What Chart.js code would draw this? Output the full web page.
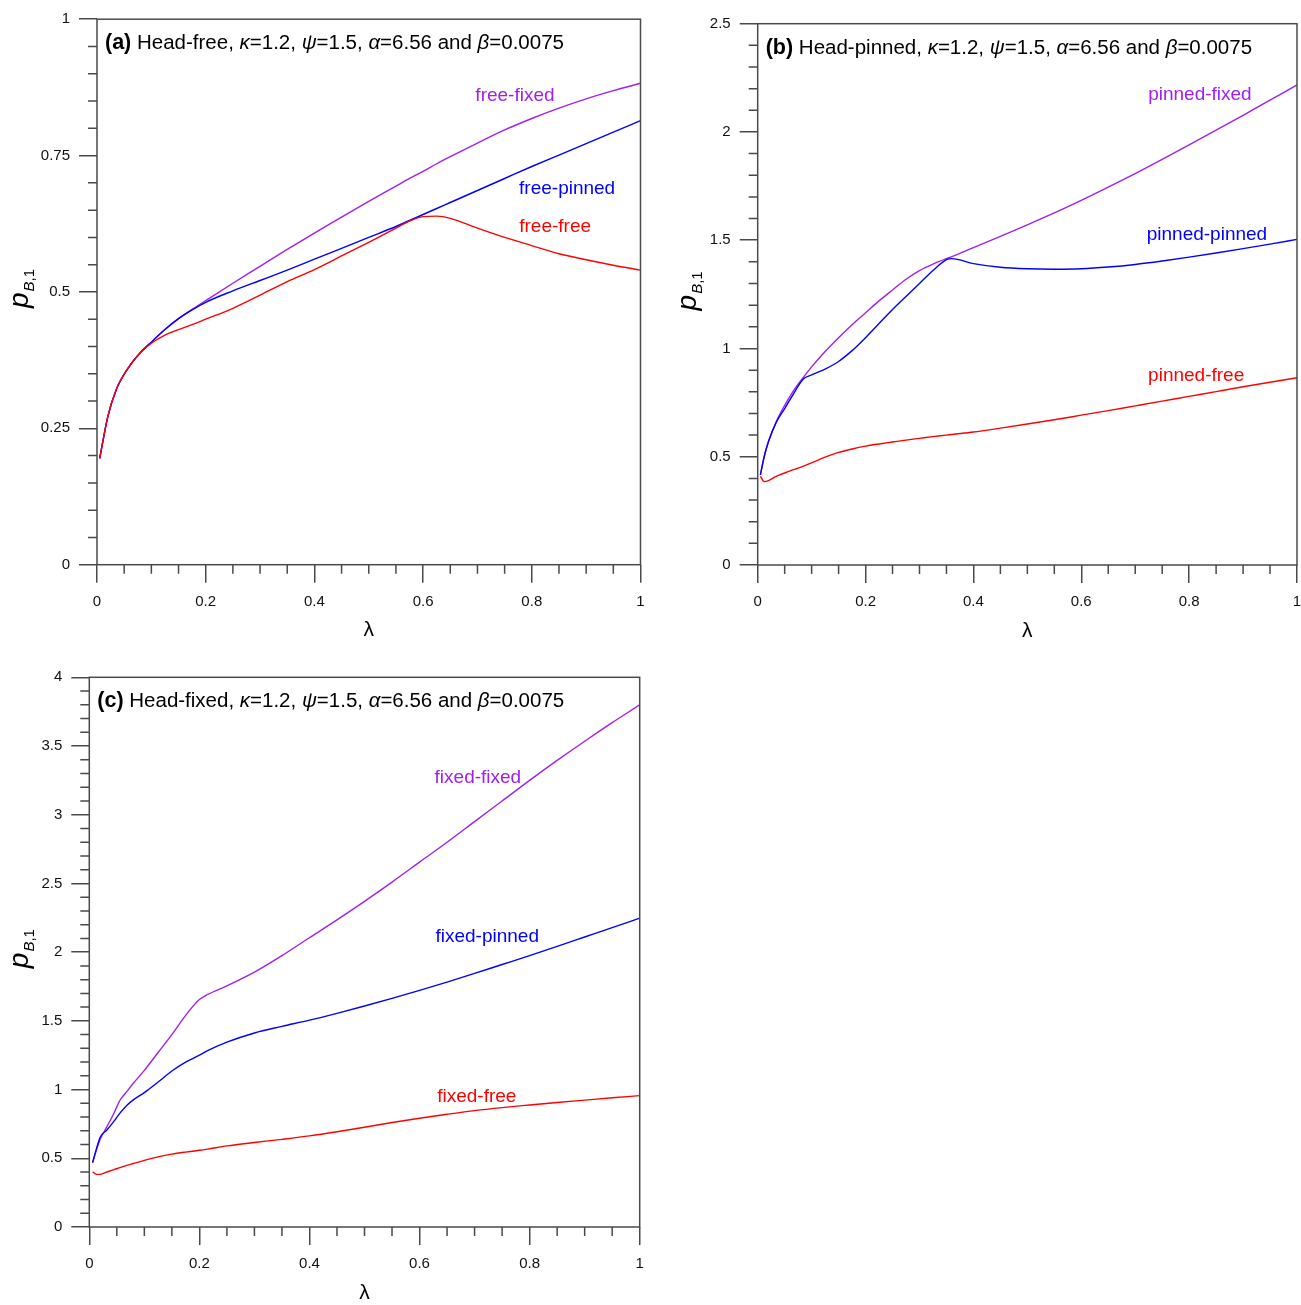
<!DOCTYPE html>
<html>
<head>
<meta charset="utf-8">
<script src="https://cdn.jsdelivr.net/npm/chart.js@4.4.1/dist/chart.umd.min.js"></script>
<style>
  body { margin: 0; background: #fff; }
  #wrap { position: relative; width: 1301px; height: 1305px; }
  .panel { position: absolute; }
</style>
</head>
<body>
<div id="wrap">
  <div class="panel" style="left:0;top:0;width:650px;height:650px"><canvas id="chartA"></canvas></div>
  <div class="panel" style="left:655px;top:0;width:646px;height:650px"><canvas id="chartB"></canvas></div>
  <div class="panel" style="left:0;top:655px;width:650px;height:650px"><canvas id="chartC"></canvas></div>
</div>
<script>
// ---- data ----
const xTicks = [0, 0.2, 0.4, 0.6, 0.8, 1];
const yTicksA = [0, 0.25, 0.5, 0.75, 1];
const yTicksB = [0, 0.5, 1, 1.5, 2, 2.5];
const yTicksC = [0, 0.5, 1, 1.5, 2, 2.5, 3, 3.5, 4];

// (a) head-free
const lambdaA = [0.005, 0.02, 0.035, 0.055, 0.08, 0.1, 0.125, 0.15, 0.175, 0.2, 0.25, 0.3, 0.35, 0.4,
  0.45, 0.5, 0.55, 0.575, 0.6, 0.625, 0.65, 0.7, 0.75, 0.8, 0.85, 0.9, 0.95, 1.0];
const freeFixed = [0.195, 0.272, 0.320, 0.357, 0.389, 0.408, 0.431, 0.451, 0.468, 0.484, 0.516, 0.547, 0.578, 0.608,
  0.637, 0.666, 0.694, 0.708, 0.721, 0.735, 0.748, 0.773, 0.797, 0.818, 0.837, 0.854, 0.869, 0.8825];
const freePinned = [0.195, 0.272, 0.320, 0.357, 0.389, 0.408, 0.431, 0.451, 0.467, 0.481, 0.502, 0.521, 0.540, 0.560,
  0.580, 0.600, 0.620, 0.631, 0.642, 0.653, 0.664, 0.686, 0.708, 0.730, 0.751, 0.772, 0.793, 0.814];
const freeFree = [0.195, 0.272, 0.320, 0.357, 0.389, 0.406, 0.421, 0.431, 0.440, 0.450, 0.470, 0.494, 0.519, 0.541,
  0.566, 0.591, 0.617, 0.630, 0.638, 0.639, 0.635, 0.617, 0.600, 0.585, 0.570, 0.559, 0.549, 0.540];

// (b) head-pinned
const lambdaB = [0.005, 0.012, 0.02, 0.035, 0.05, 0.065, 0.085, 0.1, 0.125, 0.15, 0.175, 0.2, 0.225, 0.25,
  0.275, 0.3, 0.325, 0.35, 0.36, 0.4, 0.45, 0.5, 0.55, 0.6, 0.65, 0.7, 0.75, 0.8, 0.85, 0.9, 0.95, 1.0];
const pinnedFixed = [0.416, 0.50, 0.57, 0.665, 0.737, 0.800, 0.868, 0.915, 0.986, 1.05, 1.11, 1.165, 1.22, 1.27,
  1.32, 1.36, 1.39, 1.415, 1.424, 1.466, 1.518, 1.571, 1.626, 1.684, 1.745, 1.808, 1.873, 1.940, 2.008, 2.077, 2.147, 2.217];
const pinnedPinned = [0.416, 0.50, 0.57, 0.662, 0.722, 0.785, 0.860, 0.878, 0.905, 0.94, 0.99, 1.05, 1.115, 1.18,
  1.24, 1.30, 1.36, 1.41, 1.415, 1.392, 1.375, 1.368, 1.366, 1.368, 1.376, 1.388, 1.404, 1.422, 1.441, 1.461, 1.482, 1.504];
const pinnedFree = [0.41, 0.385, 0.39, 0.41, 0.425, 0.439, 0.457, 0.472, 0.498, 0.52, 0.536, 0.549, 0.559, 0.568,
  0.577, 0.585, 0.593, 0.600, 0.603, 0.614, 0.632, 0.651, 0.671, 0.692, 0.713, 0.735, 0.757, 0.779, 0.801, 0.823, 0.844, 0.865];

// (c) head-fixed
const lambdaC = [0.006, 0.013, 0.02, 0.032, 0.045, 0.056, 0.068, 0.08, 0.1, 0.125, 0.15, 0.175, 0.2, 0.215,
  0.25, 0.3, 0.35, 0.4, 0.45, 0.5, 0.55, 0.6, 0.65, 0.7, 0.75, 0.8, 0.85, 0.9, 0.95, 1.0];
const fixedFixed = [0.468, 0.56, 0.64, 0.73, 0.83, 0.924, 0.985, 1.046, 1.14, 1.27, 1.40, 1.54, 1.655, 1.692,
  1.755, 1.855, 1.975, 2.105, 2.235, 2.37, 2.51, 2.655, 2.80, 2.95, 3.10, 3.25, 3.395, 3.535, 3.67, 3.80];
const fixedPinned = [0.468, 0.57, 0.655, 0.706, 0.77, 0.83, 0.885, 0.925, 0.978, 1.055, 1.135, 1.20, 1.25, 1.283,
  1.345, 1.412, 1.46, 1.505, 1.555, 1.608, 1.664, 1.722, 1.782, 1.845, 1.910, 1.975, 2.042, 2.110, 2.178, 2.247];
const fixedFree = [0.402, 0.383, 0.383, 0.40, 0.418, 0.432, 0.448, 0.462, 0.485, 0.51, 0.53, 0.545, 0.558, 0.567,
  0.59, 0.615, 0.638, 0.663, 0.693, 0.726, 0.760, 0.791, 0.820, 0.847, 0.869, 0.888, 0.906, 0.923, 0.940, 0.956];

// ---- styling ----
const FONT = "'Liberation Sans', Arial, sans-serif";
const AXIS = '#4a4a4a';
const PURPLE = '#A020F0', BLUE = '#0000FF', RED = '#FF0000';

function series(lam, vals, color) {
  return {
    data: lam.map((x, i) => ({ x: x, y: vals[i] })),
    borderColor: color, borderWidth: 1.4, pointRadius: 0,
    showLine: true, fill: false, cubicInterpolationMode: 'monotone'
  };
}

function titleParts(tag, head) {
  const n = '20.5px ' + FONT, it = 'italic 20.5px ' + FONT;
  return [['(' + tag + ')', 'bold 21.5px ' + FONT], [' ' + head + ', ', n], ['\u03BA', it], ['=1.2, ', n],
    ['\u03C8', it], ['=1.5, ', n], ['\u03B1', it], ['=6.56 and ', n], ['\u03B2', it], ['=0.0075', n]];
}

// frame, minor ticks, annotations and axis titles
const decor = {
  id: 'decor',
  afterDraw(chart, args, o) {
    const ctx = chart.ctx, a = chart.chartArea;
    const sx = chart.scales.x, sy = chart.scales.y;
    ctx.save();
    ctx.strokeStyle = AXIS;
    ctx.lineWidth = 1.5;
    ctx.strokeRect(a.left, a.top, a.right - a.left, a.bottom - a.top);

    ctx.beginPath();
    const ny = Math.round((sy.max - sy.min) / o.yMinor), ry = Math.round(o.yMajor / o.yMinor);
    for (let i = 0; i <= ny; i++) {
      if (i % ry === 0) continue;
      const py = sy.getPixelForValue(sy.min + i * o.yMinor);
      ctx.moveTo(a.left - 9, py); ctx.lineTo(a.left, py);
    }
    const nx = Math.round((sx.max - sx.min) / 0.05);
    for (let i = 0; i <= nx; i++) {
      if (i % 4 === 0) continue;
      const px = sx.getPixelForValue(sx.min + i * 0.05);
      ctx.moveTo(px, a.bottom); ctx.lineTo(px, a.bottom + 9);
    }
    ctx.stroke();

    // panel title
    ctx.fillStyle = '#000';
    ctx.textAlign = 'left';
    ctx.textBaseline = 'alphabetic';
    let tx = a.left + 8;
    for (const [t, f] of o.title) {
      ctx.font = f;
      ctx.fillText(t, tx, a.top + 30);
      tx += ctx.measureText(t).width;
    }

    // curve names
    ctx.textAlign = 'center';
    ctx.textBaseline = 'middle';
    ctx.font = '19px ' + FONT;
    for (const l of o.labels) {
      ctx.fillStyle = l.color;
      ctx.fillText(l.text, sx.getPixelForValue(l.x), sy.getPixelForValue(l.y));
    }

    // x title
    ctx.fillStyle = '#000';
    ctx.font = '21px ' + FONT;
    ctx.fillText('\u03BB', (a.left + a.right) / 2, a.bottom + 66);

    // y title p_{B,1}
    const pF = 'italic 28px ' + FONT, bF = 'italic 15px ' + FONT, nF = '15px ' + FONT;
    ctx.font = pF; const wp = ctx.measureText('p').width;
    ctx.font = bF; const wb = ctx.measureText('B').width;
    ctx.font = nF; const wn = ctx.measureText(',1').width;
    const total = wp + wb + wn;
    ctx.translate(o.yLabelX, (a.top + a.bottom) / 2 - 3 + total / 2);
    ctx.rotate(-Math.PI / 2);
    ctx.textAlign = 'left';
    ctx.textBaseline = 'alphabetic';
    ctx.font = pF; ctx.fillText('p', 0, 0);
    ctx.font = bF; ctx.fillText('B', wp + 1, 5.5);
    ctx.font = nF; ctx.fillText(',1', wp + 1 + wb, 5.5);
    ctx.restore();
  }
};

const gridOpts = { drawOnChartArea: false, drawTicks: true, tickLength: 18, color: AXIS, lineWidth: 1.5 };
const tickFont = { family: FONT, size: 15 };

function makeChart(id, cfg) {
  return new Chart(document.getElementById(id), {
    type: 'scatter',
    data: { datasets: cfg.datasets },
    options: {
      responsive: true,
      maintainAspectRatio: false,
      animation: false,
      layout: { padding: cfg.padding },
      plugins: { legend: { display: false }, tooltip: { enabled: false }, decor: cfg.decor },
      scales: {
        x: {
          type: 'linear', min: 0, max: 1,
          afterBuildTicks: s => { s.ticks = xTicks.map(v => ({ value: v })); },
          afterFit: s => { s.height = cfg.xHeight; s.paddingLeft = 0; s.paddingRight = 0; },
          grid: gridOpts, border: { display: false },
          ticks: { font: tickFont, color: '#111', padding: 10, autoSkip: false, maxRotation: 0, callback: v => String(v) }
        },
        y: {
          type: 'linear', min: 0, max: cfg.yTicks[cfg.yTicks.length - 1],
          afterBuildTicks: s => { s.ticks = cfg.yTicks.map(v => ({ value: v })); },
          afterFit: s => { s.width = cfg.yWidth; s.paddingTop = 0; s.paddingBottom = 0; },
          grid: gridOpts, border: { display: false },
          ticks: { font: tickFont, color: '#111', padding: 9, autoSkip: false, callback: v => String(v) }
        }
      }
    },
    plugins: [decor]
  });
}

makeChart('chartA', {
  datasets: [series(lambdaA, freeFree, RED), series(lambdaA, freePinned, BLUE), series(lambdaA, freeFixed, PURPLE)],
  yTicks: yTicksA, yWidth: 97, xHeight: 85.3,
  padding: { left: 0, top: 19.2, right: 9.5, bottom: 0 },
  decor: {
    yMinor: 0.05, yMajor: 0.25, yLabelX: 28,
    title: titleParts('a', 'Head-free'),
    labels: [
      { text: 'free-fixed', x: 0.769, y: 0.859, color: PURPLE },
      { text: 'free-pinned', x: 0.865, y: 0.690, color: BLUE },
      { text: 'free-free', x: 0.843, y: 0.619, color: RED }
    ]
  }
});

makeChart('chartB', {
  datasets: [series(lambdaB, pinnedFree, RED), series(lambdaB, pinnedPinned, BLUE), series(lambdaB, pinnedFixed, PURPLE)],
  yTicks: yTicksB, yWidth: 102.7, xHeight: 85,
  padding: { left: 0, top: 23.7, right: 4, bottom: 0 },
  decor: {
    yMinor: 0.1, yMajor: 0.5, yLabelX: 41.3,
    title: titleParts('b', 'Head-pinned'),
    labels: [
      { text: 'pinned-fixed', x: 0.820, y: 2.171, color: PURPLE },
      { text: 'pinned-pinned', x: 0.833, y: 1.524, color: BLUE },
      { text: 'pinned-free', x: 0.813, y: 0.873, color: RED }
    ]
  }
});

makeChart('chartC', {
  datasets: [series(lambdaC, fixedFree, RED), series(lambdaC, fixedPinned, BLUE), series(lambdaC, fixedFixed, PURPLE)],
  yTicks: yTicksC, yWidth: 89.3, xHeight: 78,
  padding: { left: 0, top: 22.3, right: 10.3, bottom: 0 },
  decor: {
    yMinor: 0.1, yMajor: 0.5, yLabelX: 28,
    title: titleParts('c', 'Head-fixed'),
    labels: [
      { text: 'fixed-fixed', x: 0.706, y: 3.268, color: PURPLE },
      { text: 'fixed-pinned', x: 0.723, y: 2.111, color: BLUE },
      { text: 'fixed-free', x: 0.704, y: 0.946, color: RED }
    ]
  }
});
</script>
</body>
</html>
